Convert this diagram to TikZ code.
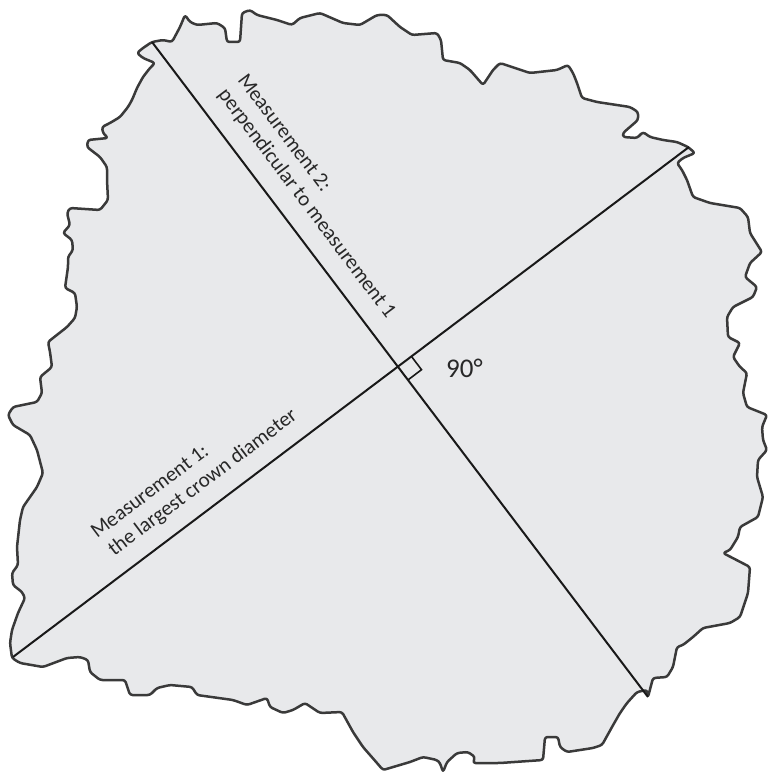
\documentclass[tikz,border=0pt]{standalone}
\usepackage{fontspec}
\setmainfont{Carlito}
\definecolor{crownfill}{RGB}{232,233,235}
\definecolor{crownedge}{RGB}{58,58,58}
\definecolor{measline}{RGB}{25,25,25}
\definecolor{labeltext}{RGB}{40,40,40}
\begin{document}
\begin{tikzpicture}[x=1pt,y=-1pt,
  crown/.style={fill=crownfill,draw=crownedge,line width=2.5pt,line join=round,rounded corners=2.5pt},
  measure/.style={draw=measline,line width=2pt,line cap=butt},
  rightmark/.style={draw=measline,line width=1.6pt},
  label/.style={text=labeltext,inner sep=0pt,align=left,font=\fontsize{21}{24.5}\selectfont},
  anglelabel/.style={text=labeltext,inner sep=0pt,font=\fontsize{27}{32}\selectfont}]
\useasboundingbox (0,0) rectangle (768,775);
\fill[white] (0,0) rectangle (768,775);
% crown outline
\draw[crown] (152,42) -- (163,40) -- (172,42) -- (180,27) -- (185,15) -- (190,22) -- (197,25) -- (217,23) -- (225,28) -- (227,42) -- (240,42) -- (242,13) -- (250,10) -- (257,15) -- (277,20) -- (292,25) -- (300,18) -- (320,13) -- (343,23) -- (360,25) -- (377,15) -- (387,15) -- (400,27) -- (412,35) -- (437,33) -- (441,40) -- (443,60) -- (460,63) -- (470,70) -- (483,85) -- (493,70) -- (500,63) -- (530,73) -- (557,70) -- (568,65) -- (573,73) -- (577,83) -- (582,98) -- (597,102) -- (630,107) -- (638,112) -- (638,120) -- (623,133) -- (623,137) -- (637,138) -- (643,132) -- (650,137) -- (663,140) -- (677,142) -- (688,147) -- (695,153) -- (683,158) -- (677,163) -- (682,170) -- (687,180) -- (693,197) -- (710,203) -- (740,208) -- (748,217) -- (750,233) -- (762,252) -- (750,263) -- (745,277) -- (757,287) -- (753,297) -- (733,307) -- (727,317) -- (728,337) -- (740,343) -- (733,357) -- (740,367) -- (747,373) -- (743,393) -- (747,407) -- (767,415) -- (762,427) -- (763,440) -- (767,450) -- (758,460) -- (757,477) -- (763,497) -- (758,517) -- (740,527) -- (738,537) -- (730,550) -- (723,553) -- (750,567) -- (748,593) -- (740,617) -- (730,623) -- (703,628) -- (693,637) -- (683,645) -- (677,647) -- (673,667) -- (667,677) -- (653,678) -- (648,697) -- (647,690) -- (637,692) -- (627,703) -- (620,713) -- (612,727) -- (602,745) -- (593,748) -- (567,752) -- (560,747) -- (558,737) -- (545,737) -- (543,760) -- (500,763) -- (473,763) -- (475,757) -- (468,752) -- (457,753) -- (447,762) -- (443,772) -- (440,763) -- (437,760) -- (423,757) -- (410,762) -- (383,770) -- (377,763) -- (363,747) -- (353,732) -- (342,712) -- (320,713) -- (305,703) -- (293,710) -- (283,713) -- (270,707) -- (267,698) -- (247,705) -- (233,700) -- (197,695) -- (192,687) -- (170,685) -- (157,688) -- (150,695) -- (130,695) -- (125,680) -- (100,680) -- (90,672) -- (88,660) -- (80,657) -- (67,658) -- (43,667) -- (20,663) -- (12,658) -- (10,643) -- (12,630) -- (18,613) -- (25,598) -- (22,592) -- (13,585) -- (12,573) -- (18,565) -- (17,547) -- (20,520) -- (23,507) -- (37,487) -- (43,473) -- (37,450) -- (30,435) -- (13,425) -- (8,415) -- (13,407) -- (37,402) -- (42,393) -- (40,377) -- (52,367) -- (50,352) -- (48,342) -- (53,338) -- (67,327) -- (75,318) -- (77,307) -- (75,293) -- (65,288) -- (68,267) -- (68,257) -- (73,250) -- (72,240) -- (63,233) -- (70,225) -- (67,213) -- (70,208) -- (100,210) -- (108,200) -- (107,180) -- (107,167) -- (100,157) -- (87,147) -- (88,140) -- (108,138) -- (103,133) -- (102,127) -- (110,123) -- (120,117) -- (128,107) -- (132,100) -- (137,88) -- (143,77) -- (150,68) -- (155,63) -- (143,58) -- (137,53) -- (143,48) -- cycle;
% measurement lines
\coordinate (m1a) at (13,657);
\coordinate (m1b) at (689,147);
\coordinate (m2a) at (152,42);
\coordinate (m2b) at (648,697);
\draw[measure] (m1a) -- (m1b);
\draw[measure] (m2a) -- (m2b);
% right-angle mark
\coordinate (ra1) at (411.2,356.1);
\coordinate (ra2) at (421.5,369.7);
\coordinate (ra3) at (407.9,380.0);
\draw[rightmark] (ra1) -- (ra2) -- (ra3);
% labels (base anchor = baseline of the last line)
\node[label,anchor=base west,rotate=-53] (t2) at (217.4,94.7) {Measurement 2:\\perpendicular to measurement 1};
\node[label,anchor=base west,rotate=37] (t1) at (111.7,558.6) {Measurement 1:\\\hspace*{3pt}the largest crown diameter};
\node[anglelabel,anchor=base west] (ang) at (446,377) {90°};
\end{tikzpicture}
\end{document}
